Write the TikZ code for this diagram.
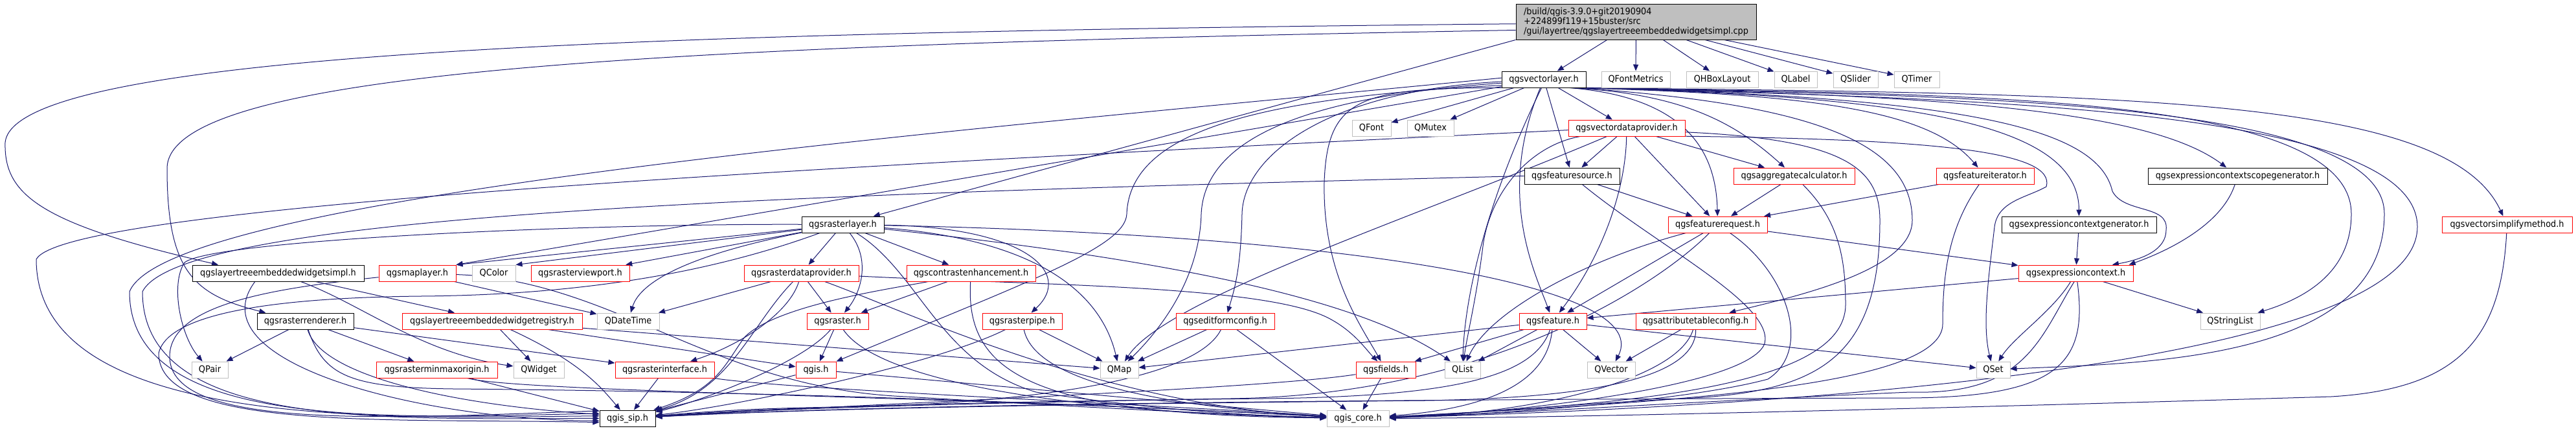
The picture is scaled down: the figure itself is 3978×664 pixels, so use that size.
\documentclass[tikz,border=0pt]{standalone}
\usepackage{fontspec}
\setmainfont{DejaVu Sans}[FakeStretch=0.92]
\usepackage{tikz}
\usetikzlibrary{arrows.meta, backgrounds}
\definecolor{edgeblue}{HTML}{191970}
\definecolor{cutred}{HTML}{FF0000}
\definecolor{sysgray}{HTML}{BFBFBF}

\begin{document}
\begin{tikzpicture}[x=1pt, y=-1pt,
    every node/.style={font=\fontsize{14}{15}\selectfont, inner sep=0pt,
      minimum height=25pt, line width=1pt, fill=white},
    hdr/.style={rectangle, draw=black},
    cut/.style={rectangle, draw=cutred},
    sys/.style={rectangle, draw=sysgray},
    cpp/.style={rectangle, draw=black, fill=sysgray, minimum height=55pt, align=left},
    arr/.style={-{Triangle[length=10pt, width=8pt]}, line width=1pt, color=edgeblue}]
  \useasboundingbox (0,0) rectangle (3978,664);
  % rows 1-2
  \node[cpp, minimum width=371pt] (root) at (2526.5,33.5)
    {/build/qgis-3.9.0+git20190904\\+224899f119+15buster/src\\/gui/layertree/qgslayertreeembeddedwidgetsimpl.cpp};
  \node[hdr, minimum width=130pt] (vl) at (2384,122.5) {qgsvectorlayer.h};
  \node[sys, minimum width=106pt] (qfm) at (2526,122.5) {QFontMetrics};
  \node[sys, minimum width=111pt] (qhbl) at (2659.5,122.5) {QHBoxLayout};
  \node[sys, minimum width=66pt] (qlab) at (2773,122.5) {QLabel};
  \node[sys, minimum width=69pt] (qsli) at (2865.5,122.5) {QSlider};
  \node[sys, minimum width=70pt] (qtim) at (2960,122.5) {QTimer};
  % row 3
  \node[sys, minimum width=60pt] (qfont) at (2118,197.5) {QFont};
  \node[sys, minimum width=72pt] (qmutex) at (2209,197.5) {QMutex};
  \node[cut, minimum width=180pt] (vdp) at (2512,197.5) {qgsvectordataprovider.h};
  % row 4
  \node[hdr, minimum width=147pt] (fsrc) at (2427.5,271.5) {qgsfeaturesource.h};
  \node[cut, minimum width=187pt] (aggc) at (2770.5,271.5) {qgsaggregatecalculator.h};
  \node[cut, minimum width=151pt] (fit) at (3065.5,271.5) {qgsfeatureiterator.h};
  \node[hdr, minimum width=277pt] (ecsg) at (3455.5,271.5) {qgsexpressioncontextscopegenerator.h};
  % row 5
  \node[hdr, minimum width=127pt] (rl) at (1301.5,346.5) {qgsrasterlayer.h};
  \node[cut, minimum width=153pt] (freq) at (2652.5,346.5) {qgsfeaturerequest.h};
  \node[hdr, minimum width=239pt] (ecg) at (3210.5,346.5) {qgsexpressioncontextgenerator.h};
  \node[cut, minimum width=201pt] (vsm) at (3871.5,346.5) {qgsvectorsimplifymethod.h};
  % row 6
  \node[hdr, minimum width=265pt] (wsi) at (429.5,421.5) {qgslayertreeembeddedwidgetsimpl.h};
  \node[cut, minimum width=119pt] (ml) at (644.5,421.5) {qgsmaplayer.h};
  \node[sys, minimum width=67pt] (qcolor) at (762.5,421.5) {QColor};
  \node[cut, minimum width=152pt] (rvp) at (896,421.5) {qgsrasterviewport.h};
  \node[cut, minimum width=177pt] (rdp) at (1237.5,421.5) {qgsrasterdataprovider.h};
  \node[cut, minimum width=199pt] (ce) at (1499.5,421.5) {qgscontrastenhancement.h};
  \node[cut, minimum width=177pt] (ec) at (3205.5,421.5) {qgsexpressioncontext.h};
  % row 7
  \node[hdr, minimum width=149pt] (rr) at (471.5,495.5) {qgsrasterrenderer.h};
  \node[cut, minimum width=278pt] (wreg) at (760,495.5) {qgslayertreeembeddedwidgetregistry.h};
  \node[sys, minimum width=96pt] (qdt) at (970,495.5) {QDateTime};
  \node[cut, minimum width=95pt] (rast) at (1293.5,495.5) {qgsraster.h};
  \node[cut, minimum width=123pt] (rpipe) at (1578.5,495.5) {qgsrasterpipe.h};
  \node[cut, minimum width=152pt] (efc) at (1892,495.5) {qgseditformconfig.h};
  \node[cut, minimum width=104pt] (feat) at (2398,495.5) {qgsfeature.h};
  \node[cut, minimum width=185pt] (atc) at (2618.5,495.5) {qgsattributetableconfig.h};
  \node[sys, minimum width=92pt] (qsl) at (3444,495.5) {QStringList};
  % row 8
  \node[sys, minimum width=56pt] (qpair) at (324,570.5) {QPair};
  \node[cut, minimum width=187pt] (rmmo) at (674.5,570.5) {qgsrasterminmaxorigin.h};
  \node[sys, minimum width=78pt] (qwidget) at (832,570.5) {QWidget};
  \node[cut, minimum width=153pt] (rif) at (1026.5,570.5) {qgsrasterinterface.h};
  \node[cut, minimum width=62pt] (qgish) at (1260,570.5) {qgis.h};
  \node[sys, minimum width=59pt] (qmap) at (1728.5,570.5) {QMap};
  \node[cut, minimum width=92pt] (flds) at (2140,570.5) {qgsfields.h};
  \node[sys, minimum width=55pt] (qlist) at (2258.5,570.5) {QList};
  \node[sys, minimum width=74pt] (qvec) at (2488,570.5) {QVector};
  \node[sys, minimum width=52pt] (qset) at (3078,570.5) {QSet};
  % row 9
  \node[hdr, minimum width=86pt] (sip) at (969,645.5) {qgis\_sip.h};
  \node[sys, minimum width=96pt] (core) at (2097,645.5) {qgis\_core.h};

  \begin{scope}[on background layer]
  \fill[white] (0,0) rectangle (3978,664);
  % root
  \draw[arr] (root.181) .. controls (1000,50) and (20,80) .. (8,220) .. controls (6,300) and (60,345) .. (wsi.172);
  \draw[arr] (root.184) .. controls (1000,70) and (258,110) .. (258,260) .. controls (258,420) and (300,455) .. (rr.168);
  \draw[arr] (root.south west) -- (rl);
  \draw[arr] (root) -- (vl);
  \draw[arr] (root) -- (qfm);
  \draw[arr] (root) -- (qhbl);
  \draw[arr] (root) -- (qlab);
  \draw[arr] (root) -- (qsli);
  \draw[arr] (root) -- (qtim);
  % qgsvectorlayer.h
  \draw[arr] (vl) -- (qfont);
  \draw[arr] (vl) -- (qmutex);
  \draw[arr] (vl) -- (vdp);
  \draw[arr] (vl) -- (fsrc);
  \draw[arr] (vl) .. controls (2310,300) and (2370,420) .. (feat);
  \draw[arr] (vl.255) .. controls (2300,300) and (2262,450) .. (qlist);
  \draw[arr] (vl.193) .. controls (2100,135) and (2050,150) .. (2045,280) .. controls (2042,420) and (2100,500) .. (flds);
  \draw[arr] (vl.188) .. controls (1950,150) and (1745,200) .. (1740,330) .. controls (1738,380) and (1600,430) .. (qgish);
  \draw[arr] (vl.185) .. controls (2000,150) and (1860,220) .. (1855,330) .. controls (1852,440) and (1780,520) .. (qmap);
  \draw[arr] (vl.183) .. controls (2050,140) and (1920,240) .. (1918,330) .. controls (1916,420) and (1905,450) .. (efc);
  \draw[arr] (vl) -- (ml.north east);
  \draw[arr] (vl.178) .. controls (1500,200) and (260,300) .. (200,450) .. controls (200,665) and (600,645) .. (sip.170);
  \draw[arr] (vl.-18) .. controls (2600,150) and (2650,230) .. (freq);
  \draw[arr] (vl.-17) .. controls (2600,145) and (2680,190) .. (aggc);
  \draw[arr] (vl.-16) .. controls (2800,145) and (2980,170) .. (fit);
  \draw[arr] (vl.-15) .. controls (2800,160) and (2953,220) .. (2953,340) .. controls (2953,420) and (2760,460) .. (atc);
  \draw[arr] (vl.-14) .. controls (2950,148) and (3210,190) .. (ecg);
  \draw[arr] (vl.-13) .. controls (3000,146) and (3320,170) .. (ecsg);
  \draw[arr] (vl.-12) .. controls (3050,150) and (3240,200) .. (3262,295) .. controls (3280,330) and (3350,315) .. (3345,355) .. controls (3345,385) and (3310,400) .. (ec.13);
  \draw[arr] (vl.-12) .. controls (3000,146) and (3631,140) .. (3631,330) .. controls (3631,420) and (3560,460) .. (qsl);
  \draw[arr] (vl.-11) .. controls (3000,148) and (3682,150) .. (3682,330) .. controls (3682,560) and (3300,560) .. (qset);
  \draw[arr] (vl.south east) .. controls (3000,152) and (3733,160) .. (3733,350) .. controls (3733,570) and (2700,630) .. (core);
  \draw[arr] (vl.south east) .. controls (3300,145) and (3780,150) .. (vsm);
  % qgsvectordataprovider.h
  \draw[arr] (vdp) -- (fsrc);
  \draw[arr] (vdp) -- (freq);
  \draw[arr] (vdp) -- (aggc);
  \draw[arr] (vdp) .. controls (2510,300) and (2470,400) .. (feat);
  \draw[arr] (vdp) .. controls (2360,225) and (2300,300) .. (2290,380) .. controls (2280,460) and (2265,520) .. (qlist);
  \draw[arr] (vdp) .. controls (2200,330) and (1800,460) .. (qmap);
  \draw[arr] (vdp.-8) .. controls (3000,215) and (3175,235) .. (3160,288) .. controls (3130,305) and (3085,310) .. (3080,350) .. controls (3072,420) and (3060,500) .. (qset);
  \draw[arr] (vdp.-4) .. controls (2850,215) and (2903,260) .. (2903,340) .. controls (2903,560) and (2800,605) .. (2600,615) .. controls (2400,625) and (2250,640) .. (core);
  \draw[arr] (vdp.182) .. controls (1200,260) and (100,320) .. (56,400) .. controls (56,665) and (600,645) .. (sip.175);
  % qgsfeaturesource.h, iterators, generators
  \draw[arr] (fsrc) -- (freq);
  \draw[arr] (fsrc) .. controls (2560,380) and (2740,470) .. (2725,530) .. controls (2700,600) and (2300,640) .. (core);
  \draw[arr] (fsrc.west) .. controls (1200,300) and (280,330) .. (220,450) .. controls (220,665) and (600,645) .. (sip.180);
  \draw[arr] (aggc) -- (freq);
  \draw[arr] (aggc) .. controls (2840,340) and (2850,400) .. (2850,470) .. controls (2850,600) and (2500,625) .. (core);
  \draw[arr] (fit) -- (freq);
  \draw[arr] (fit) .. controls (3010,350) and (3000,420) .. (3000,500) .. controls (3000,595) and (2600,620) .. (core);
  \draw[arr] (ecsg) .. controls (3430,350) and (3340,390) .. (ec.9);
  \draw[arr] (ecg) -- (ec);
  \draw[arr] (vsm) .. controls (3862,520) and (3800,600) .. (3600,612) .. controls (3000,630) and (2400,645) .. (core);
  % qgsfeaturerequest.h
  \draw[arr] (freq) -- (feat);
  \draw[arr] (freq) -- (ec);
  \draw[arr] (freq) .. controls (2450,400) and (2300,480) .. (qlist);
  \draw[arr] (freq) .. controls (2760,420) and (2800,540) .. (2730,585) .. controls (2600,620) and (2300,640) .. (core);
  \draw[arr] (freq) .. controls (2560,440) and (2300,610) .. (1900,615) .. controls (1500,622) and (1200,630) .. (sip);
  % qgsexpressioncontext.h
  \draw[arr] (ec) -- (qsl);
  \draw[arr] (ec) .. controls (3170,480) and (3110,520) .. (qset);
  \draw[arr] (ec) -- (feat);
  \draw[arr] (ec.-100) .. controls (3150,520) and (3130,610) .. (2950,605) .. controls (2600,620) and (2300,640) .. (core);
  \draw[arr] (ec.-80) .. controls (3225,560) and (3180,612) .. (2950,614) .. controls (2200,616) and (1400,622) .. (sip);
  % qgsfeature.h
  \draw[arr] (feat) -- (flds);
  \draw[arr] (feat) -- (qlist);
  \draw[arr] (feat) -- (qvec);
  \draw[arr] (feat) -- (qset);
  \draw[arr] (feat) -- (qmap);
  \draw[arr] (feat) .. controls (2390,590) and (2300,630) .. (core);
  \draw[arr] (feat) .. controls (2370,580) and (2250,612) .. (1950,615) .. controls (1500,620) and (1200,628) .. (sip);
  % qgsattributetableconfig.h, qgseditformconfig.h, qgsfields.h
  \draw[arr] (atc) -- (qvec);
  \draw[arr] (atc) .. controls (2590,590) and (2350,640) .. (core);
  \draw[arr] (atc) .. controls (2620,595) and (2400,615) .. (2200,618) .. controls (1800,622) and (1300,628) .. (sip);
  \draw[arr] (efc) -- (qmap);
  \draw[arr] (efc) -- (core);
  \draw[arr] (efc) .. controls (1840,600) and (1500,625) .. (1300,628) .. controls (1150,630) and (1080,636) .. (sip);
  \draw[arr] (flds) -- (core);
  \draw[arr] (flds) .. controls (1950,600) and (1400,620) .. (sip);
  % qgsrasterlayer.h
  \draw[arr] (rl) -- (ml.north east);
  \draw[arr] (rl) -- (qcolor.north east);
  \draw[arr] (rl) -- (rvp);
  \draw[arr] (rl) -- (rdp);
  \draw[arr] (rl) -- (ce);
  \draw[arr] (rl) .. controls (1345,400) and (1330,450) .. (rast);
  \draw[arr] (rl) .. controls (1580,350) and (1660,420) .. (rpipe);
  \draw[arr] (rl) .. controls (1080,390) and (990,430) .. (qdt);
  \draw[arr] (rl) .. controls (1600,370) and (1700,450) .. (qmap);
  \draw[arr] (rl) .. controls (1800,400) and (2100,460) .. (qlist);
  \draw[arr] (rl) .. controls (2000,360) and (2560,430) .. (qvec);
  \draw[arr] (rl) .. controls (900,345) and (330,370) .. (285,405) .. controls (262,440) and (280,520) .. (qpair);
  \draw[arr] (rl) .. controls (1100,420) and (900,455) .. (650,457) .. controls (350,460) and (255,500) .. (245,545) .. controls (245,665) and (600,645) .. (sip.188);
  \draw[arr] (rl) .. controls (1420,420) and (1450,560) .. (1600,605) .. controls (1800,635) and (1950,642) .. (core);
  % qgsrasterdataprovider.h, qgscontrastenhancement.h
  \draw[arr] (rdp) -- (qdt);
  \draw[arr] (rdp) -- (rast);
  \draw[arr] (rdp) .. controls (1220,480) and (1150,530) .. (rif);
  \draw[arr] (rdp) .. controls (1600,440) and (1950,440) .. (2050,490) .. controls (2090,510) and (2110,540) .. (flds);
  \draw[arr] (rdp) .. controls (1160,500) and (1130,600) .. (sip);
  \draw[arr] (rdp) .. controls (1400,480) and (1700,625) .. (core);
  \draw[arr] (ce) -- (rast);
  \draw[arr] (ce) .. controls (1380,445) and (1200,470) .. (1150,520) .. controls (1120,560) and (1110,600) .. (sip);
  \draw[arr] (ce) .. controls (1490,580) and (1600,640) .. (core);
  % raster internals
  \draw[arr] (rast) -- (qgish);
  \draw[arr] (rast) .. controls (1240,560) and (1080,620) .. (sip);
  \draw[arr] (rast) .. controls (1350,580) and (1600,635) .. (core);
  \draw[arr] (rpipe) -- (qmap);
  \draw[arr] (rpipe) .. controls (1450,560) and (1150,625) .. (sip);
  \draw[arr] (rpipe) .. controls (1600,600) and (1850,630) .. (core);
  \draw[arr] (rif) -- (sip);
  \draw[arr] (rif) .. controls (1200,600) and (1800,625) .. (core);
  \draw[arr] (qgish) -- (sip);
  \draw[arr] (qgish) -- (core);
  % qgsrasterrenderer.h, qgsrasterminmaxorigin.h
  \draw[arr] (rr) -- (qpair);
  \draw[arr] (rr) -- (rmmo);
  \draw[arr] (rr) -- (rif);
  \draw[arr] (rr) .. controls (495,580) and (700,625) .. (sip.172);
  \draw[arr] (rr) .. controls (500,580) and (540,598) .. (700,600) .. controls (1300,605) and (1800,630) .. (core);
  \draw[arr] (rmmo) -- (sip);
  \draw[arr] (rmmo) .. controls (800,605) and (1500,612) .. (core);
  % qgsmaplayer.h
  \draw[arr] (ml) -- (qdt);
  \draw[arr] (ml) .. controls (950,432) and (1100,600) .. (1400,612) .. controls (1700,630) and (1900,640) .. (core);
  \draw[arr] (ml) .. controls (420,445) and (262,470) .. (262,550) .. controls (262,665) and (600,645) .. (sip.165);
  % layer tree widgets
  \draw[arr] (wsi) -- (wreg);
  \draw[arr] (wsi) .. controls (560,470) and (650,545) .. (qwidget);
  \draw[arr] (wsi.200) .. controls (300,560) and (650,648) .. (sip.185);
  \draw[arr] (wreg) -- (qwidget);
  \draw[arr] (wreg) -- (qgish);
  \draw[arr] (wreg) -- (qmap);
  \draw[arr] (wreg) .. controls (900,560) and (930,600) .. (sip);
  \end{scope}
\end{tikzpicture}
\end{document}
